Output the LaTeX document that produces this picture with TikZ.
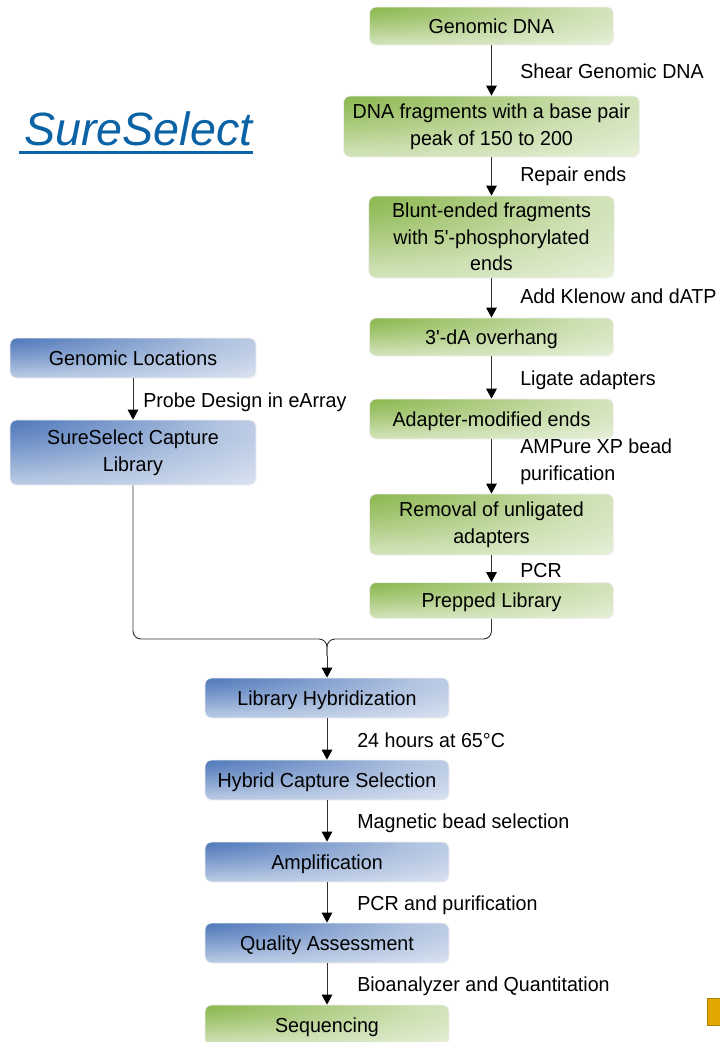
\documentclass[tikz,border=0pt]{standalone}
\usepackage{fontspec}
\usepackage{tikz}
\usetikzlibrary{arrows.meta}
\newfontfamily\stepfont{Liberation Sans}[FakeStretch=0.97]
\newfontfamily\brandfont{Liberation Sans}
\definecolor{leafgreen}{HTML}{7DAE38}
\definecolor{steelblue}{HTML}{3A68B2}
\definecolor{sureblue}{HTML}{0B63A5}
\definecolor{logogold}{HTML}{E3A800}
\definecolor{linegray}{HTML}{333333}
\pgfdeclareradialshading{greenglow}{\pgfpoint{-42bp}{40bp}}{color(0bp)=(leafgreen);
 color(18bp)=(leafgreen!85!white);color(45bp)=(leafgreen!40!white);
 color(72bp)=(leafgreen!10!white);color(100bp)=(white);color(130bp)=(white)}
\pgfdeclareradialshading{blueglow}{\pgfpoint{-42bp}{40bp}}{color(0bp)=(steelblue);
 color(18bp)=(steelblue!85!white);color(45bp)=(steelblue!40!white);
 color(72bp)=(steelblue!10!white);color(100bp)=(white);color(130bp)=(white)}
\tikzset{
 stage/.style={rounded corners=5pt,draw=black!6,line width=0.6pt,shade,align=center,
  inner sep=3pt,text=black,font=\stepfont\fontsize{15.2}{20}\selectfont},
 greenstage/.style={stage,shading=greenglow},
 bluestage/.style={stage,shading=blueglow},
 oneline/.style={text height=11pt,text depth=0pt},
 steplabel/.style={anchor=base west,inner sep=0pt,align=left,
  font=\stepfont\fontsize{15.2}{20}\selectfont},
 flow/.style={draw=linegray,line width=0.7pt,-{Triangle[width=8pt,length=7.5pt,black]}},
 mergeline/.style={draw=linegray,line width=0.7pt,rounded corners=6pt}
}

\begin{document}
\begin{tikzpicture}[x=0.75pt,y=-0.75pt]
\useasboundingbox (0,0) rectangle (719,1042);

\node[anchor=base west,inner sep=0pt,text=sureblue,
 font=\brandfont\itshape\fontsize{35}{40}\selectfont] (brand) at (24,145) {SureSelect};
\draw[sureblue,line width=2.2pt] ([xshift=-4pt,yshift=-5.5pt]brand.base west)
 -- ([yshift=-5.5pt]brand.base east);

\node[greenstage,oneline,minimum width=183pt,minimum height=28.5pt] (gdna) at (491.5,26) {Genomic DNA};
\node[greenstage,minimum width=222pt,minimum height=45.75pt] (frag) at (491.5,126.5)
 {DNA fragments with a base pair\\peak of 150 to 200};
\node[greenstage,minimum width=184pt,minimum height=61.5pt] (blunt) at (491.5,237)
 {Blunt-ended fragments\\with 5'-phosphorylated\\ends};
\node[greenstage,oneline,minimum width=183pt,minimum height=28.5pt] (overhang) at (491.5,337) {3'-dA overhang};
\node[greenstage,oneline,minimum width=183pt,minimum height=30pt] (adapt) at (491.5,419) {Adapter-modified ends};
\node[greenstage,minimum width=183pt,minimum height=45.75pt] (removal) at (491.5,524.5)
 {Removal of unligated\\adapters};
\node[greenstage,oneline,minimum width=183pt,minimum height=27pt] (prepped) at (491.5,600.5) {Prepped Library};

\node[bluestage,oneline,minimum width=184.5pt,minimum height=30pt] (locs) at (133,358) {Genomic Locations};
\node[bluestage,minimum width=184.5pt,minimum height=48.75pt] (capture) at (133,452.5)
 {SureSelect Capture\\Library};

\node[bluestage,oneline,minimum width=183pt,minimum height=30pt] (hybrid) at (327,698) {Library Hybridization};
\node[bluestage,oneline,minimum width=183pt,minimum height=30pt] (hcs) at (327,780) {Hybrid Capture Selection};
\node[bluestage,oneline,minimum width=183pt,minimum height=30pt] (amp) at (327,862) {Amplification};
\node[bluestage,oneline,minimum width=183pt,minimum height=30pt] (qa) at (327,943) {Quality Assessment};
\node[greenstage,oneline,minimum width=183pt,minimum height=30pt] (seq) at (327,1025) {Sequencing};

\node[steplabel] (lshear) at (520,78) {Shear Genomic DNA};
\node[steplabel] (lrepair) at (520,181) {Repair ends};
\node[steplabel] (lklenow) at (520,303) {Add Klenow and dATP};
\node[steplabel] (lligate) at (520,385) {Ligate adapters};
\node[steplabel] (lampure) at (520,480) {AMPure XP bead\\purification};
\node[steplabel] (lpcr) at (520,577) {PCR};
\node[steplabel] (lprobe) at (143,407) {Probe Design in eArray};
\node[steplabel] (lhours) at (357,747) {24 hours at 65\textdegree C};
\node[steplabel] (lbead) at (357,828) {Magnetic bead selection};
\node[steplabel] (lpurif) at (357,910) {PCR and purification};
\node[steplabel] (lbioan) at (357,991) {Bioanalyzer and Quantitation};

\draw[flow] (gdna.south) -- (frag.north);
\draw[flow] (frag.south) -- (blunt.north);
\draw[flow] (blunt.south) -- (overhang.north);
\draw[flow] (overhang.south) -- (adapt.north);
\draw[flow] (adapt.south) -- (removal.north);
\draw[flow] (removal.south) -- (prepped.north);
\draw[flow] (locs.south) -- (capture.north);

\coordinate (fork) at (327,639);
\coordinate (forkfoot) at (327,656);
\draw[mergeline] (capture.south) |- (fork) -- (forkfoot);
\draw[mergeline] (prepped.south) |- (fork) -- (forkfoot);
\draw[flow] (forkfoot) -- (hybrid.north);

\draw[flow] (hybrid.south) -- (hcs.north);
\draw[flow] (hcs.south) -- (amp.north);
\draw[flow] (amp.south) -- (qa.north);
\draw[flow] (qa.south) -- (seq.north);

\filldraw[fill=logogold,draw=logogold!75!black,line width=0.6pt] (707.5,998) rectangle (725,1025);
\end{tikzpicture}
\end{document}
